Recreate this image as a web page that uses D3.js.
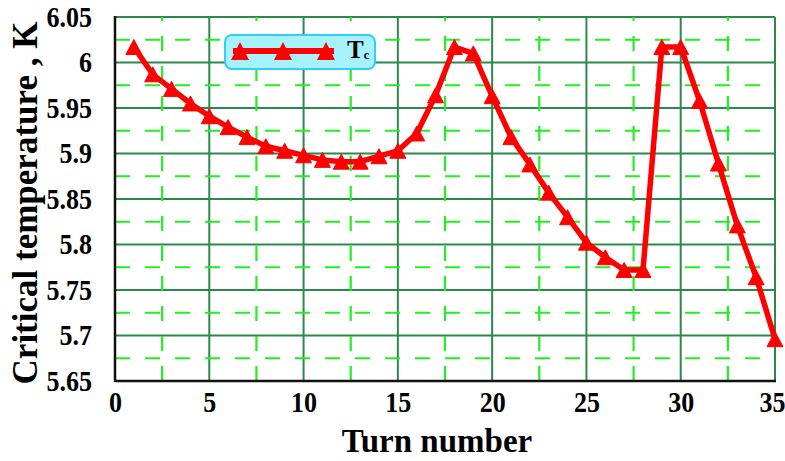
<!DOCTYPE html>
<html>
<head>
<meta charset="utf-8">
<script src="https://cdn.jsdelivr.net/npm/d3@7"></script>
<style>
  html, body { margin: 0; padding: 0; background: #ffffff; }
  svg { display: block; }
  text { font-family: "Liberation Serif", "Times New Roman", Times, "DejaVu Serif", serif; font-weight: bold; fill: #000; }
</style>
</head>
<body>
<svg id="chart" width="785" height="461"></svg>
<script>
// ---- data ----
const turns = [1,2,3,4,5,6,7,8,9,10,11,12,13,14,15,16,17,18,19,20,21,22,23,24,25,26,27,28,29,30,31,32,33,34,35];
const tcValues = [6.017,5.987,5.971,5.955,5.941,5.929,5.918,5.908,5.903,5.898,5.893,5.891,5.891,5.897,5.903,
                  5.922,5.964,6.017,6.010,5.963,5.918,5.888,5.857,5.830,5.802,5.786,5.772,5.772,6.017,6.017,
                  5.958,5.889,5.821,5.764,5.696];
const xTicks = [0,5,10,15,20,25,30,35];
const yTicks = [5.65,5.7,5.75,5.8,5.85,5.9,5.95,6,6.05];
const xMinor = [2.5,7.5,12.5,17.5,22.5,27.5,32.5];
const yMinor = [5.675,5.725,5.775,5.825,5.875,5.925,5.975,6.025];
const seriesName = "T";
const seriesSub = "c";
const xTitle = "Turn number";
const yTitle = "Critical temperature , K";

const FONT = '"Liberation Serif", "Times New Roman", Times, "DejaVu Serif", serif';

// ---- layout ----
const L = 115, R = 775, T = 17, B = 381;
const svg = d3.select("#chart");
const x = d3.scaleLinear().domain([0, 35]).range([L, R]);
const y = d3.scaleLinear().domain([5.65, 6.05]).range([B, T]);

const darkGreen = "#2a8a4a";
const brightGreen = "#22ee22";

// major gridlines (solid)
const grid = svg.append("g");
grid.selectAll("line.vmaj").data(xTicks.filter(d => d > 0)).join("line")
  .attr("class", "vmaj")
  .attr("x1", d => x(d)).attr("x2", d => x(d)).attr("y1", T).attr("y2", B)
  .attr("stroke", darkGreen).attr("stroke-width", 2);
grid.selectAll("line.hmaj").data(yTicks.filter(d => d > 5.65)).join("line")
  .attr("class", "hmaj")
  .attr("x1", L).attr("x2", R).attr("y1", d => y(d)).attr("y2", d => y(d))
  .attr("stroke", darkGreen).attr("stroke-width", 2);

// minor gridlines (dashed)
grid.selectAll("line.vmin").data(xMinor).join("line")
  .attr("class", "vmin")
  .attr("x1", d => x(d)).attr("x2", d => x(d)).attr("y1", B).attr("y2", T)
  .attr("stroke", brightGreen).attr("stroke-width", 2.2).attr("stroke-dasharray", "15,15");
grid.selectAll("line.hmin").data(yMinor).join("line")
  .attr("class", "hmin")
  .attr("x1", L).attr("x2", R).attr("y1", d => y(d)).attr("y2", d => y(d))
  .attr("stroke", brightGreen).attr("stroke-width", 2.2).attr("stroke-dasharray", "15,15");

// axes lines
svg.append("line").attr("x1", L).attr("x2", L).attr("y1", T - 1).attr("y2", B + 1)
  .attr("stroke", "#111").attr("stroke-width", 2.5);
svg.append("line").attr("x1", L - 1).attr("x2", R + 1).attr("y1", B).attr("y2", B)
  .attr("stroke", "#111").attr("stroke-width", 2.5);

// axis tick labels via d3 axes (no tick lines)
const xAxis = svg.append("g").attr("transform", `translate(0,${B})`)
  .call(d3.axisBottom(x).tickValues(xTicks).tickSize(0).tickPadding(9).tickFormat(d3.format("d")));
xAxis.attr("font-family", null);
xAxis.select(".domain").remove();
xAxis.selectAll("text").style("font-size", "26px").style("font-family", FONT)
  .style("font-weight", "bold").attr("dy", "0.71em")
  .attr("transform", "scale(1,1.12)")
  .attr("text-anchor", d => d === 35 ? "end" : "middle")
  .attr("x", d => d === 35 ? 785 - x(35) : 0);

const yAxis = svg.append("g").attr("transform", `translate(${L},0)`)
  .call(d3.axisLeft(y).tickValues(yTicks).tickSize(0).tickPadding(23).tickFormat(d => String(+d.toFixed(2))));
yAxis.attr("font-family", null);
yAxis.select(".domain").remove();
yAxis.selectAll("text").style("font-size", "26px").style("font-family", FONT)
  .style("font-weight", "bold").attr("transform", "scale(1,1.12)");

// titles
svg.append("text").attr("x", 437).attr("y", 452).attr("text-anchor", "middle")
  .style("font-size", "33px").text(xTitle);
svg.append("text").attr("transform", "translate(37,203) rotate(-90)").attr("text-anchor", "middle")
  .style("font-size", "35px").text(yTitle);

// series line
const red = "#ff0000";
const pts = turns.map((t, i) => [t, tcValues[i]]);
svg.append("path").datum(pts)
  .attr("fill", "none").attr("stroke", red).attr("stroke-width", 5.5).attr("stroke-linejoin", "round")
  .attr("d", d3.line().x(d => x(d[0])).y(d => y(d[1])));

function tri(w, h) {
  return `M0,${-h/2}L${w/2},${h/2}L${-w/2},${h/2}Z`;
}
svg.append("g").selectAll("path").data(pts).join("path")
  .attr("transform", d => `translate(${x(d[0])},${y(d[1])})`)
  .attr("d", tri(16, 15)).attr("fill", red).attr("stroke", red).attr("stroke-width", 1);

// legend
const lg = svg.append("g");
lg.append("rect").attr("x", 225).attr("y", 35).attr("width", 150).attr("height", 34)
  .attr("rx", 7).attr("ry", 7).attr("fill", "#a6f2ff").attr("stroke", "#33ccff").attr("stroke-width", 2);
lg.append("line").attr("x1", 233).attr("x2", 334).attr("y1", 51).attr("y2", 51)
  .attr("stroke", red).attr("stroke-width", 6);
lg.selectAll("path").data([240, 283, 326]).join("path")
  .attr("transform", d => `translate(${d},51)`).attr("d", tri(18, 18)).attr("fill", red);
const lt = lg.append("text").attr("x", 347).attr("y", 58).style("font-size", "25px");
lt.append("tspan").text(seriesName);
lt.append("tspan").style("font-size", "12px").attr("dy", 1).text(seriesSub);
</script>
</body>
</html>
